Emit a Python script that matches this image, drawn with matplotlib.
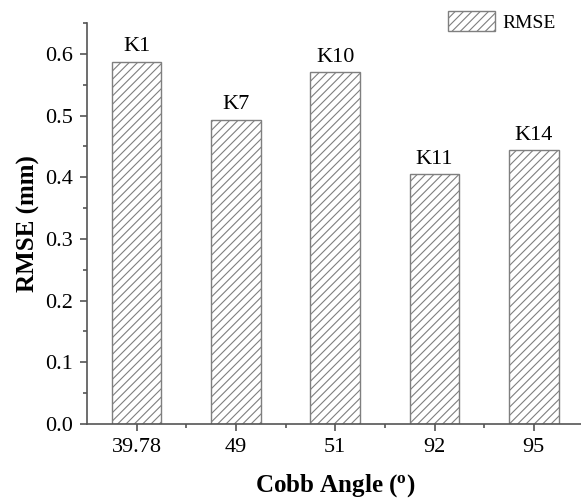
import matplotlib.pyplot as plt
import numpy as np
from matplotlib.ticker import MultipleLocator, FormatStrFormatter

plt.rcParams['font.family'] = ['Liberation Serif', 'DejaVu Serif']
plt.rcParams['hatch.color'] = '#8c8c8c'
plt.rcParams['hatch.linewidth'] = 0.8

# Data
angles = ['39.78', '49', '51', '92', '95']
rmse = [0.587, 0.493, 0.570, 0.405, 0.444]
cases = ['K1', 'K7', 'K10', 'K11', 'K14']

fig = plt.figure(figsize=(5.81, 5.04), dpi=100)
ax = fig.add_axes([87 / 581, 1 - 424 / 504, 496.5 / 581, 401 / 504])

x = np.arange(len(angles))
bars = ax.bar(x, rmse, width=0.5, color='white', edgecolor='#7f7f7f',
              linewidth=1.0, hatch='////', label='RMSE')

# Case names above each bar
for xi, yi, name in zip(x, rmse, cases):
    ax.annotate(name, (xi, yi), xycoords='data', textcoords='offset points',
                xytext=(0, 4), ha='center', va='bottom', fontsize=16)

ax.set_xlim(-0.5, 4.5)
ax.set_ylim(0, 0.65)
ax.set_xticks(x)
ax.set_xticklabels(angles)
ax.set_xticks(x[:-1] + 0.5, minor=True)
ax.yaxis.set_major_locator(MultipleLocator(0.1))
ax.yaxis.set_minor_locator(MultipleLocator(0.05))
ax.yaxis.set_major_formatter(FormatStrFormatter('%.1f'))

for side in ['top', 'right']:
    ax.spines[side].set_visible(False)
for side in ['left', 'bottom']:
    ax.spines[side].set_color('#555555')
    ax.spines[side].set_linewidth(1.2)

ax.tick_params(which='major', length=5, width=1.2, color='#555555',
               labelsize=16, pad=5)
ax.tick_params(which='minor', length=3, width=1.2, color='#555555')

ax.set_xlabel(r'Cobb Angle ($\mathregular{^o}$)', fontsize=18,
              fontweight='bold', labelpad=11)
ax.set_ylabel('RMSE (mm)', fontsize=18, fontweight='bold', labelpad=4)

ax.legend(loc='upper left', bbox_to_anchor=(448 / 581, 1 - 11 / 504),
          bbox_transform=fig.transFigure, frameon=False, fontsize=14,
          borderpad=0, borderaxespad=0, handlelength=2.4, handleheight=1.2,
          handletextpad=0.4)

plt.savefig('out.png', dpi=100)
